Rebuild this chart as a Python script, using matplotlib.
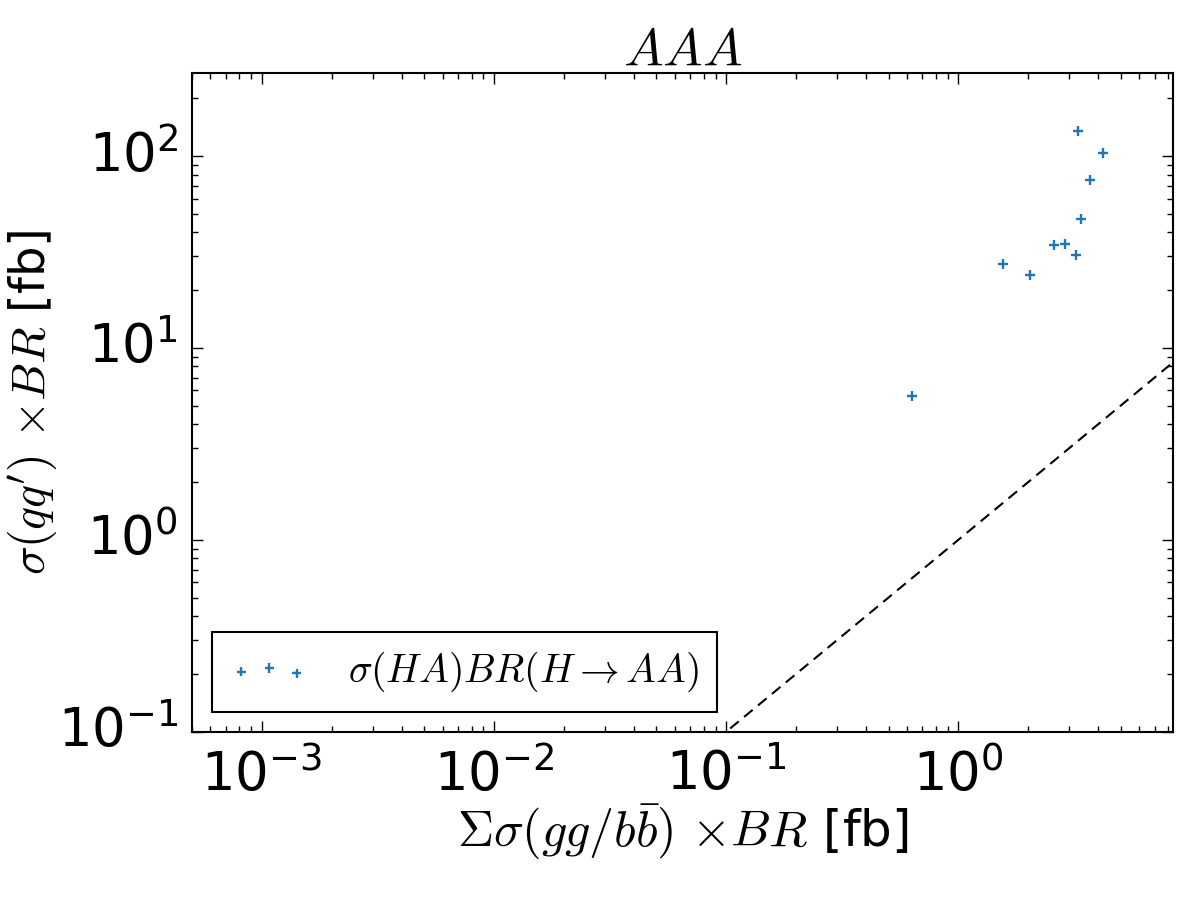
import matplotlib

matplotlib.use("Agg")

import matplotlib.pyplot as plt
import numpy as np

# sigma(gg/bb) x BR  vs  sigma(qq') x BR, in fb
x_vals = [3.28, 4.20, 3.70, 3.36, 2.57, 2.88, 3.22, 1.56, 2.03, 0.634]
y_vals = [135.4, 104.0, 74.7, 46.8, 34.4, 34.8, 30.3, 27.4, 24.1, 5.6]
series_label = r"$\sigma(HA)BR(H\to AA)$"
title = r"$AAA$"

plt.style.use("classic")
plt.rcParams["axes.unicode_minus"] = False
plt.rcParams["mathtext.fontset"] = "cm"

fig = plt.figure(figsize=(12, 9), dpi=100, facecolor="white")
ax = fig.add_axes([0.16, 0.187, 0.8175, 0.732])

x = np.array(x_vals)
y = np.array(y_vals)
ax.scatter(x, y, marker="+", s=60, linewidths=1.7, color="#1f77b4", label=series_label)

xmin, xmax = 5e-4, 2 * x.max()
ymin, ymax = 0.1, 2 * y.max()
diag = np.array([xmin, xmax])
ax.plot(diag, diag, color="black", ls="--", dashes=(8, 5), lw=1.5)

ax.set_xscale("log")
ax.set_yscale("log")
ax.set_xlim(xmin, xmax)
ax.set_ylim(ymin, ymax)

ax.tick_params(axis="both", which="major", labelsize=38, length=8, width=1)
ax.tick_params(axis="x", which="major", pad=12)
ax.tick_params(axis="y", which="major", pad=10)
ax.tick_params(axis="both", which="minor", length=4, width=1)
for side in ax.spines.values():
    side.set_linewidth(1.5)

ax.set_xlabel(r"$\Sigma\sigma(gg/b\bar{b})$ $\times BR$ [fb]", fontsize=36, labelpad=0)
ax.set_ylabel(r"$\sigma(qq^{\prime})$ $\times BR$ [fb]", fontsize=34.5)
ax.yaxis.set_label_coords(-0.136, 0.5)
ax.set_title(title, fontsize=38, y=1.0)

leg = ax.legend(loc="lower left", fontsize=28.5, scatterpoints=3, markerscale=0.85,
                frameon=True, fancybox=False, borderpad=0.45, handletextpad=1.0)
leg.get_frame().set_linewidth(1.5)
leg.get_frame().set_edgecolor("black")

fig.savefig("out.png", dpi=100, facecolor="white")
